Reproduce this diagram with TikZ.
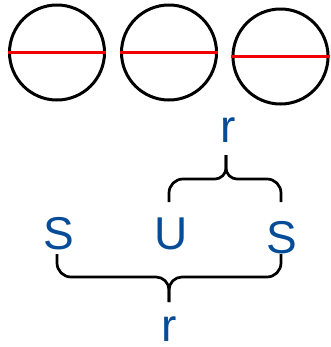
\documentclass[tikz,border=0pt]{standalone}
\usepackage{fontspec}
\setmainfont{Liberation Sans}
\definecolor{txtblue}{RGB}{6,76,150}
\definecolor{linered}{RGB}{240,0,0}
\begin{document}
\begin{tikzpicture}[x=1bp,y=-1bp,
  ring/.style={circle,draw=black,line width=3bp,minimum size=95bp,inner sep=0pt},
  diam/.style={draw=linered,line width=3bp},
  lbl/.style={text=txtblue,inner sep=0pt,font=\fontsize{46bp}{50bp}\selectfont},
  brace/.style={draw=black,line width=2.7bp,line join=round}]
\useasboundingbox (0,0) rectangle (331,347);
\node[ring] (c1) at (57,52.5) {};
\node[ring] (c2) at (169,52.5) {};
\node[ring] (c3) at (280.5,56.5) {};
\draw[diam] (c1.west) -- (c1.east);
\draw[diam] (c2.west) -- (c2.east);
\draw[diam] (c3.west) -- (c3.east);
\node[lbl] (rt) at (228,130) {r};
\node[lbl] (s1) at (58.5,233.5) {S};
\node[lbl] (u) at (171,234) {U};
\node[lbl] (s2) at (282,237.5) {S};
\node[lbl] (rb) at (169,329) {r};
\coordinate (tbL) at (169,202);
\coordinate (tbR) at (281,202);
\coordinate (tbT) at (226,155);
\coordinate (bbL) at (57,254);
\coordinate (bbR) at (281,254);
\coordinate (bbT) at (169,302);
\draw[brace] (tbL) -- (169,193) .. controls (169,185.3) and (175.3,179) .. (183,179) -- (215,179)
  .. controls (221,179) and (226,174) .. (226,168) -- (tbT);
\draw[brace] (tbT) -- (226,168) .. controls (226,174) and (231,179) .. (237,179) -- (267,179)
  .. controls (274.7,179) and (281,185.3) .. (281,193) -- (tbR);
\draw[brace] (bbL) -- (57,263) .. controls (57,270.7) and (63.3,277) .. (71,277) -- (156,277)
  .. controls (163.2,277) and (169,282.8) .. (169,290) -- (bbT);
\draw[brace] (bbT) -- (169,290) .. controls (169,282.8) and (174.8,277) .. (182,277) -- (267,277)
  .. controls (274.7,277) and (281,270.7) .. (281,263) -- (bbR);
\end{tikzpicture}
\end{document}
